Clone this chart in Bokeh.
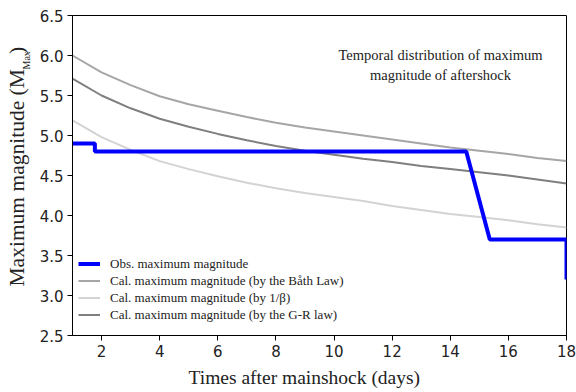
from bokeh.plotting import figure
from bokeh.models import Range1d, Label, Legend, LegendItem, FixedTicker, Title
from bokeh.embed import file_html
from bokeh.resources import INLINE

# ---- data ----
days = [1, 2, 3, 4, 5, 6, 7, 8, 9, 10, 11, 12, 13, 14, 15, 16, 17, 18]
bath_law = [6.00, 5.79, 5.63, 5.49, 5.39, 5.31, 5.23, 5.16, 5.10, 5.05, 5.00, 4.95, 4.90, 4.85, 4.81, 4.77, 4.72, 4.68]
inv_beta = [5.19, 4.98, 4.82, 4.68, 4.58, 4.49, 4.41, 4.34, 4.28, 4.23, 4.18, 4.12, 4.07, 4.02, 3.98, 3.94, 3.89, 3.85]
gr_law = [5.71, 5.50, 5.34, 5.21, 5.11, 5.02, 4.94, 4.87, 4.81, 4.76, 4.71, 4.67, 4.62, 4.58, 4.54, 4.50, 4.45, 4.40]
obs_days = [1, 1.77, 1.77, 14.55, 15.36, 18, 18]
obs_mag = [4.9, 4.9, 4.8, 4.8, 3.7, 3.7, 3.2]
x_ticks = [2, 4, 6, 8, 10, 12, 14, 16, 18]
y_ticks = [2.5, 3.0, 3.5, 4.0, 4.5, 5.0, 5.5, 6.0, 6.5]

X0, X1, Y0, Y1 = 1, 18, 2.5, 6.5
serif = "Liberation Serif"
TXT = "#222222"
NB = "\u00a0"

p = figure(width=576, height=392, output_backend="svg", toolbar_location=None,
           x_range=Range1d(X0, X1), y_range=Range1d(Y0, Y1),
           min_border_left=72, min_border_right=10, min_border_top=15, min_border_bottom=56)
p.grid.visible = False
p.outline_line_color = "black"
p.outline_line_width = 1
p.background_fill_color = "white"
p.border_fill_color = "white"

for ax in (p.xaxis[0], p.yaxis[0]):
    ax.axis_line_color = "black"
    ax.major_tick_line_color = "black"
    ax.major_tick_out = 5
    ax.major_tick_in = 0
    ax.minor_tick_line_color = None
    ax.major_label_text_font = "DejaVu Sans"
    ax.major_label_text_font_size = "15px"
    ax.major_label_text_color = TXT
    ax.major_label_standoff = 4

p.xaxis.ticker = FixedTicker(ticks=x_ticks)
p.yaxis.ticker = FixedTicker(ticks=y_ticks)
p.yaxis.major_label_overrides = {t: f"{t:.1f}" for t in y_ticks}

xtitle = Title(text="Times after mainshock (days)", align="left", offset=116,
               text_font=serif, text_font_style="normal", text_font_size="19.5px",
               text_color=TXT, standoff=10)
p.add_layout(xtitle, "below")

# y-axis label with subscript, as two titles on the left
ysub = Title(text="Max", align="left", offset=266,
             text_font=serif, text_font_style="normal", text_font_size="10px",
             text_color=TXT, standoff=10)
p.add_layout(ysub, "left")
ymain = Title(text="Maximum magnitude (M" + NB * 2 + "\u2009)", align="left", offset=49,
              text_font=serif, text_font_style="normal", text_font_size="21.5px",
              text_color=TXT, standoff=-30)
p.add_layout(ymain, "left")

r_bath = p.line(days, bath_law, line_color="#a6a6a6", line_width=2)
r_beta = p.line(days, inv_beta, line_color="#d3d3d3", line_width=2)
r_gr = p.line(days, gr_law, line_color="#7f7f7f", line_width=2)
r_obs = p.line(obs_days, obs_mag, line_color="#0000ff", line_width=4)

legend = Legend(items=[
    LegendItem(label="Obs. maximum magnitude", renderers=[r_obs]),
    LegendItem(label="Cal. maximum magnitude (by the Båth Law)", renderers=[r_bath]),
    LegendItem(label="Cal. maximum magnitude (by 1/β)", renderers=[r_beta]),
    LegendItem(label="Cal. maximum magnitude (by the G-R law)", renderers=[r_gr]),
], location=(6, 12))
legend.border_line_color = None
legend.background_fill_alpha = 0
legend.label_text_font = serif
legend.label_text_font_size = "13px"
legend.label_text_color = TXT
legend.glyph_width = 22
legend.glyph_height = 17
legend.label_height = 17
legend.label_standoff = 10
legend.spacing = 0
legend.padding = 0
legend.margin = 0
p.add_layout(legend, "center")

def dx(px):
    return X0 + (px - 72) * (X1 - X0) / 494.0

def dy(py):
    return Y1 - (py - 15) * (Y1 - Y0) / 321.0

p.add_layout(Label(x=dx(440), y=dy(55), text="Temporal distribution of maximum",
                   text_font=serif, text_font_size="14.5px", text_align="center",
                   text_baseline="middle", text_color=TXT))
p.add_layout(Label(x=dx(440), y=dy(75), text="magnitude of aftershock",
                   text_font=serif, text_font_size="14.5px", text_align="center",
                   text_baseline="middle", text_color=TXT))

open("out.html", "w").write(file_html(p, INLINE))
